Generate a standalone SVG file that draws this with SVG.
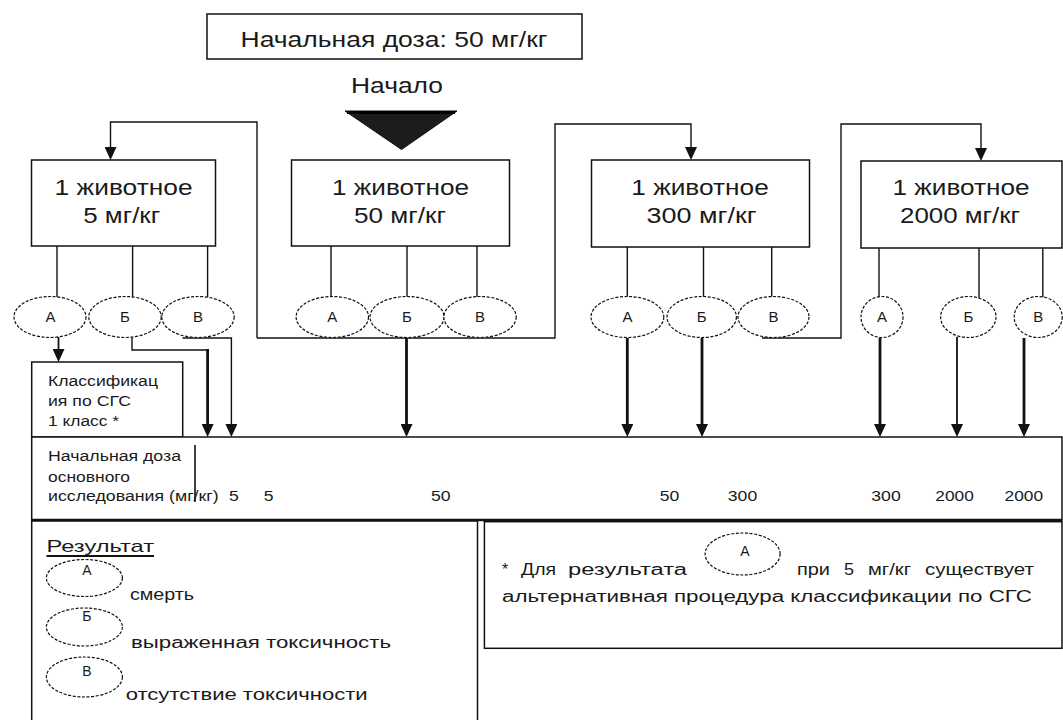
<svg xmlns="http://www.w3.org/2000/svg" width="1063" height="720" viewBox="0 0 1063 720">
<style>
text{font-family:"Liberation Sans",Arial,sans-serif;fill:#1a1a1a}
.big{font-size:22px;text-anchor:middle}
.sm{font-size:14px}
.num{font-size:14px;text-anchor:middle}
.lg{font-size:16px}
.lbl{font-size:15px;text-anchor:middle}
.box{fill:#fff;stroke:#111;stroke-width:1.5}
.ell{fill:#fff;stroke:#111;stroke-width:1.2;stroke-dasharray:3 1.6}
.ln{fill:none;stroke:#111;stroke-width:1.4}
.th{fill:none;stroke:#111;stroke-width:2.8}
.md{fill:none;stroke:#111;stroke-width:1.8}
</style>
<defs>
<marker id="ah" viewBox="0 0 13 12" refX="7" refY="6" markerWidth="13" markerHeight="12" markerUnits="userSpaceOnUse" orient="auto">
<path d="M0,0 L13,6 L0,12 Z" fill="#111"/>
</marker>
</defs>
<rect width="1063" height="720" fill="#fff"/>

<g id="start-box">
<rect class="box" x="207" y="14" width="375" height="45"/>
<text class="big" x="394" y="47" textLength="307" lengthAdjust="spacingAndGlyphs">Начальная доза: 50 мг/кг</text>
</g>
<g id="start">
<text class="big" x="397" y="93" textLength="92" lengthAdjust="spacingAndGlyphs">Начало</text>
<path d="M345,111 L457,111 L401.5,149.5 Z" fill="#1c1c1c" stroke="#111" stroke-width="1" stroke-linejoin="round"/>
<line x1="347" y1="112.5" x2="455" y2="112.5" stroke="#000" stroke-width="3"/>
</g>

<g id="connectors">
<path class="ln" d="M257,338 V122 H110.5 V154" marker-end="url(#ah)"/>
<path class="ln" d="M257,338 H555 V124 H691 V154" marker-end="url(#ah)"/>
<path class="ln" d="M762,338 H841 V124 H981 V155" marker-end="url(#ah)"/>
<path class="ln" d="M57,246 V297 M132.6,246 V297 M207.6,246 V297"/>
<path class="ln" d="M331,246 V297 M407,246 V297 M477,246 V297"/>
<path class="ln" d="M627.3,247 V297 M703.5,247 V297 M771.7,247 V297"/>
<path class="ln" d="M879,248 V297 M979,248 V299 M1042.8,248 V298"/>
<path class="md" d="M58.5,337 V356" marker-end="url(#ah)"/>
<path class="ln" d="M132,337 V350 H207.6"/>
<path class="th" d="M207.6,349 V431" marker-end="url(#ah)"/>
<path class="ln" d="M182.5,338 H231.4 V431" marker-end="url(#ah)"/>
<path class="th" d="M406.5,338 V431" marker-end="url(#ah)"/>
<path class="th" d="M627.3,338 V431" marker-end="url(#ah)"/>
<path class="th" d="M702,338 V431" marker-end="url(#ah)"/>
<path class="th" d="M880,338 V431" marker-end="url(#ah)"/>
<path class="md" d="M957,337 V431" marker-end="url(#ah)"/>
<path class="th" d="M1024,338 V431" marker-end="url(#ah)"/>
</g>

<g id="box-5">
<rect class="box" x="31.5" y="160" width="184" height="86"/>
<text class="big" x="123.6" y="195" textLength="138" lengthAdjust="spacingAndGlyphs">1 животное</text>
<text class="big" x="121.7" y="223" textLength="77" lengthAdjust="spacingAndGlyphs">5 мг/кг</text>
</g>
<g id="box-50">
<rect class="box" x="291.5" y="160" width="218" height="86"/>
<text class="big" x="400.5" y="195" textLength="137" lengthAdjust="spacingAndGlyphs">1 животное</text>
<text class="big" x="400" y="223" textLength="92" lengthAdjust="spacingAndGlyphs">50 мг/кг</text>
</g>
<g id="box-300">
<rect class="box" x="591.5" y="160" width="218" height="87"/>
<text class="big" x="700" y="195" textLength="137.5" lengthAdjust="spacingAndGlyphs">1 животное</text>
<text class="big" x="701.6" y="223" textLength="110" lengthAdjust="spacingAndGlyphs">300 мг/кг</text>
</g>
<g id="box-2000">
<rect class="box" x="861" y="161" width="201" height="87"/>
<text class="big" x="961" y="195" textLength="137" lengthAdjust="spacingAndGlyphs">1 животное</text>
<text class="big" x="960" y="223" textLength="120" lengthAdjust="spacingAndGlyphs">2000 мг/кг</text>
</g>

<g id="res-5-A"><ellipse class="ell" cx="50" cy="317" rx="36" ry="20.5"/><text class="lbl" x="50.5" y="322">А</text></g>
<g id="res-5-B"><ellipse class="ell" cx="125" cy="317" rx="36.2" ry="20.5"/><text class="lbl" x="125" y="322">Б</text></g>
<g id="res-5-C"><ellipse class="ell" cx="198" cy="317" rx="36.2" ry="20.5"/><text class="lbl" x="198" y="322">В</text></g>
<g id="res-50-A"><ellipse class="ell" cx="332.3" cy="317" rx="36.2" ry="20.5"/><text class="lbl" x="332.3" y="322">А</text></g>
<g id="res-50-B"><ellipse class="ell" cx="407" cy="317" rx="37" ry="20.5"/><text class="lbl" x="407" y="322">Б</text></g>
<g id="res-50-C"><ellipse class="ell" cx="480" cy="317" rx="36.2" ry="20.5"/><text class="lbl" x="480" y="322">В</text></g>
<g id="res-300-A"><ellipse class="ell" cx="627.4" cy="317" rx="36.4" ry="20.5"/><text class="lbl" x="627.4" y="322">А</text></g>
<g id="res-300-B"><ellipse class="ell" cx="701.7" cy="317" rx="34.7" ry="20.5"/><text class="lbl" x="701.7" y="322">Б</text></g>
<g id="res-300-C"><ellipse class="ell" cx="773.5" cy="317" rx="35.5" ry="20.5"/><text class="lbl" x="773.5" y="322">В</text></g>
<g id="res-2000-A"><ellipse class="ell" cx="882" cy="317" rx="21" ry="20.5"/><text class="lbl" x="882" y="322">А</text></g>
<g id="res-2000-B"><ellipse class="ell" cx="968.3" cy="317" rx="27.7" ry="20.5"/><text class="lbl" x="968.3" y="322">Б</text></g>
<g id="res-2000-C"><ellipse class="ell" cx="1038.2" cy="317" rx="24" ry="20.5"/><text class="lbl" x="1038.2" y="322">В</text></g>

<g id="class-box">
<rect class="box" x="31.7" y="362" width="151" height="75"/>
<text class="sm" x="48" y="386" textLength="110" lengthAdjust="spacingAndGlyphs">Классификац</text>
<text class="sm" x="48" y="406" textLength="83" lengthAdjust="spacingAndGlyphs">ия по СГС</text>
<text class="sm" x="48" y="426" textLength="71" lengthAdjust="spacingAndGlyphs">1 класс *</text>
</g>

<g id="dose-bar">
<rect class="box" x="31.7" y="437" width="1030.3" height="83"/>
<line x1="31.7" y1="520" x2="1062" y2="520" stroke="#111" stroke-width="2.6"/>
<line x1="195" y1="445" x2="195" y2="502" stroke="#111" stroke-width="1.6"/>
<text class="sm" x="48" y="461" textLength="133" lengthAdjust="spacingAndGlyphs">Начальная доза</text>
<text class="sm" x="48" y="482" textLength="82" lengthAdjust="spacingAndGlyphs">основного</text>
<text class="sm" x="48" y="501" textLength="170.7" lengthAdjust="spacingAndGlyphs">исследования (мг/кг)</text>
<text class="num" x="234" y="501" textLength="9.8" lengthAdjust="spacingAndGlyphs">5</text>
<text class="num" x="268.6" y="501" textLength="9.8" lengthAdjust="spacingAndGlyphs">5</text>
<text class="num" x="440.8" y="501" textLength="19.6" lengthAdjust="spacingAndGlyphs">50</text>
<text class="num" x="669.5" y="501" textLength="19.6" lengthAdjust="spacingAndGlyphs">50</text>
<text class="num" x="742.5" y="501" textLength="29.4" lengthAdjust="spacingAndGlyphs">300</text>
<text class="num" x="886" y="501" textLength="29.4" lengthAdjust="spacingAndGlyphs">300</text>
<text class="num" x="954.6" y="501" textLength="38.5" lengthAdjust="spacingAndGlyphs">2000</text>
<text class="num" x="1023.8" y="501" textLength="38.5" lengthAdjust="spacingAndGlyphs">2000</text>
</g>

<g id="legend">
<rect class="box" x="31.7" y="521" width="445.8" height="205"/>
<text x="46.5" y="552" font-size="17" textLength="107.5" lengthAdjust="spacingAndGlyphs">Результат</text>
<line x1="46.5" y1="556" x2="154" y2="556" stroke="#111" stroke-width="2"/>
<ellipse class="ell" cx="84.4" cy="578" rx="38" ry="18.5"/>
<text class="sm" x="86.8" y="575" text-anchor="middle">А</text>
<text class="lg" x="130" y="600" textLength="64" lengthAdjust="spacingAndGlyphs">смерть</text>
<ellipse class="ell" cx="84.4" cy="627" rx="38" ry="19"/>
<text class="sm" x="86.8" y="621" text-anchor="middle">Б</text>
<text class="lg" x="131" y="648" textLength="260" lengthAdjust="spacingAndGlyphs">выраженная токсичность</text>
<ellipse class="ell" cx="84.4" cy="677" rx="38" ry="20"/>
<text class="sm" x="86.8" y="676" text-anchor="middle">В</text>
<text class="lg" x="125.7" y="700" textLength="242" lengthAdjust="spacingAndGlyphs">отсутствие токсичности</text>
</g>

<g id="note">
<rect class="box" x="484.4" y="521.7" width="577.6" height="126.6"/>
<ellipse class="ell" cx="742.6" cy="554" rx="37.5" ry="21"/>
<text class="sm" x="745" y="556" text-anchor="middle">А</text>
<text class="lg" x="502" y="575">*</text>
<text class="lg" x="521" y="575" textLength="35" lengthAdjust="spacingAndGlyphs">Для</text>
<text class="lg" x="568" y="575" textLength="119" lengthAdjust="spacingAndGlyphs">результата</text>
<text class="lg" x="797" y="575" textLength="33" lengthAdjust="spacingAndGlyphs">при</text>
<text class="lg" x="844" y="575" textLength="10" lengthAdjust="spacingAndGlyphs">5</text>
<text class="lg" x="868" y="575" textLength="43" lengthAdjust="spacingAndGlyphs">мг/кг</text>
<text class="lg" x="925" y="575" textLength="109" lengthAdjust="spacingAndGlyphs">существует</text>
<text class="lg" x="502" y="602" textLength="530" lengthAdjust="spacingAndGlyphs">альтернативная процедура классификации по СГС</text>
</g>
</svg>
